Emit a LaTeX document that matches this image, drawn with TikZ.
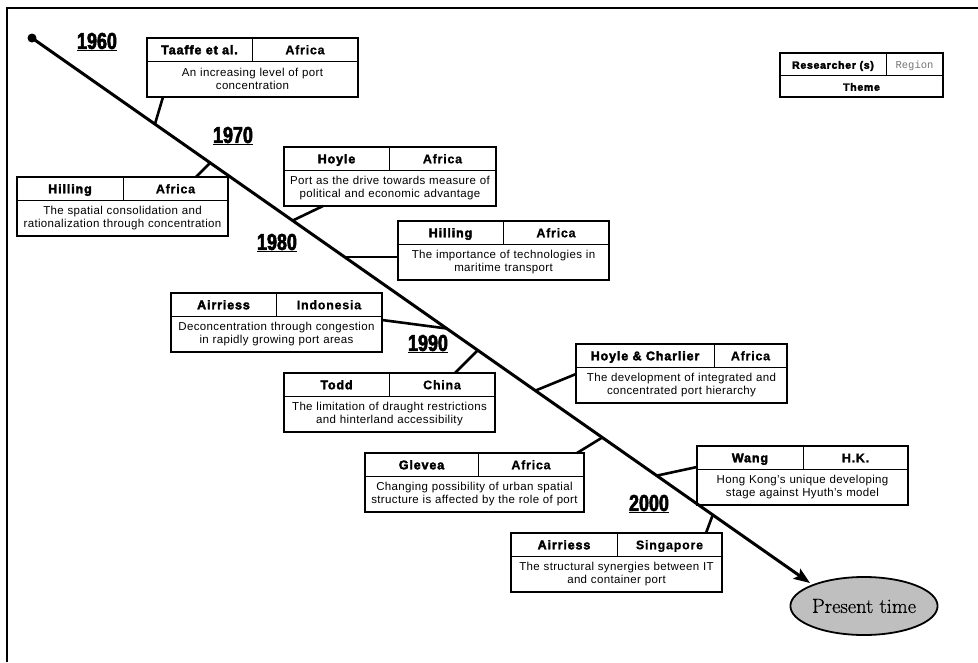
\documentclass[tikz,border=0pt]{standalone}
\usepackage{fontspec}
\usepackage{tikz}
\usetikzlibrary{calc,fit,arrows.meta,shapes.geometric}
\newfontfamily\bodyfont{Liberation Sans}[LetterSpace=3]
\newfontfamily\whofont{Liberation Sans}[LetterSpace=7,BoldFeatures={FakeBold=3}]
\newfontfamily\wherefont{Liberation Sans}[LetterSpace=6,BoldFeatures={FakeBold=0.6}]
\newfontfamily\yearfont{Liberation Sans}[FakeStretch=0.78,BoldFeatures={FakeBold=2.5}]
\newfontfamily\keyfont{Liberation Mono}
\newfontfamily\presentfont{Latin Modern Roman}[FakeBold=0.6]
\tikzset{
  cell/.style={draw, line width=0.8pt, inner sep=0pt, outer sep=0pt, minimum height=23pt,
    text height=10.5pt, text depth=1pt},
  themecell/.style={draw, line width=0.8pt, inner sep=0pt, outer sep=0pt, minimum height=36pt,
    align=center, font=\bodyfont\fontsize{11.5}{13.5}\selectfont},
  frame/.style={draw, line width=2.2pt, inner sep=0pt, outer sep=0pt},
  link/.style={line width=2.6pt},
  year/.style={inner sep=0pt, font=\yearfont\bfseries\fontsize{23}{23}\selectfont},
}
% box: name, north west corner, width, divider, researcher, region, theme
\newcommand{\eventbox}[7]{%
  \node[cell, minimum width=#4pt, anchor=north west, font=\whofont\bfseries\fontsize{12.5}{14}\selectfont] (#1-who) at (#2) {#5};
  \node[cell, minimum width=#3pt-#4pt, anchor=north west, font=\wherefont\bfseries\fontsize{12.5}{14}\selectfont] (#1-where) at (#1-who.north east) {#6};
  \node[themecell, text width=#3pt, anchor=north west] (#1-what) at (#1-who.south west) {#7};
  \node[frame, fit=(#1-who)(#1-where)(#1-what)] (#1) {};
}

\begin{document}
\begin{tikzpicture}[x=1pt, y=-1pt]
			%%%%% START %%%%%
			\useasboundingbox (0,0) rectangle (978,662);
			\draw[line width=2.2pt] (7,662) -- (7,8) -- (978,8);
			
			% time axis
			\coordinate (start) at (32,38);
			\coordinate (tip) at (810,583);
			\node[ellipse, draw, line width=1.8pt, fill=black!25, minimum width=139pt, minimum height=58pt,
			  inner sep=0pt, font=\presentfont\fontsize{20.5}{24}\selectfont] (present) at (864,606) {Present time};
			\fill (start) circle (4.5pt);
			\draw[line width=3pt, -{Stealth[length=16pt,width=12pt,inset=3pt]}] (start) -- (tip);
			
			\node[year] (y1960) at (97,42) {\underline{1960}};
			\node[year] (y1970) at (233,136) {\underline{1970}};
			\node[year] (y1980) at (277,243) {\underline{1980}};
			\node[year] (y1990) at (428,344) {\underline{1990}};
			\node[year] (y2000) at (649,504) {\underline{2000}};
			
			% legend
			\node[cell, minimum width=106pt, minimum height=22pt, anchor=north west,
			  font=\whofont\bfseries\fontsize{10.5}{12}\selectfont] (key-who) at (780,53) {Researcher (s)};
			\node[cell, minimum width=57pt, minimum height=22pt, anchor=north west, text=black!55,
			  font=\keyfont\fontsize{10.5}{12}\selectfont] (key-where) at (key-who.north east) {Region};
			\node[cell, minimum width=163pt, minimum height=22pt, anchor=north west,
			  font=\whofont\bfseries\fontsize{10.5}{12}\selectfont] (key-what) at (key-who.south west) {Theme};
			\node[frame, fit=(key-who)(key-where)(key-what)] (key) {};
			
			% studies
			\eventbox{taaffe}{147,38}{211}{105}{Taaffe et al.}{Africa}{An increasing level of port\\concentration}
			\eventbox{hilling1}{17,177}{211}{106}{Hilling}{Africa}{The spatial consolidation and\\rationalization through concentration}
			\eventbox{hoyle}{284,147}{212}{105}{Hoyle}{Africa}{Port as the drive towards measure of\\political and economic advantage}
			\eventbox{hilling2}{398,221}{211}{105}{Hilling}{Africa}{The importance of technologies in\\maritime transport}
			\eventbox{airriess1}{171,293}{211}{105}{Airriess}{Indonesia}{Deconcentration through congestion\\in rapidly growing port areas}
			\eventbox{todd}{284,373}{211}{105}{Todd}{China}{The limitation of draught restrictions\\and hinterland accessibility}
			\eventbox{hoylec}{576,344}{211}{138}{Hoyle \& Charlier}{Africa}{The development of integrated and\\concentrated port hierarchy}
			\eventbox{glevea}{365,453}{219}{113}{Glevea}{Africa}{Changing possibility of urban spatial\\structure is affected by the role of port}
			\eventbox{wang}{697,446}{211}{106}{Wang}{H.K.}{Hong Kong’s unique developing\\stage against Hyuth’s model}
			\eventbox{airriess2}{511,533}{211}{106}{Airriess}{Singapore}{The structural synergies between IT\\and container port}
			
			% links to the axis
			\coordinate (at-taaffe) at ($(start)!0.158!(tip)$);
			\coordinate (at-hilling1) at ($(start)!0.229!(tip)$);
			\coordinate (at-hoyle) at ($(start)!0.335!(tip)$);
			\coordinate (at-hilling2) at ($(start)!0.402!(tip)$);
			\coordinate (at-airriess1) at ($(start)!0.533!(tip)$);
			\coordinate (at-todd) at ($(start)!0.573!(tip)$);
			\coordinate (at-hoylec) at ($(start)!0.647!(tip)$);
			\coordinate (at-glevea) at ($(start)!0.733!(tip)$);
			\coordinate (at-wang) at ($(start)!0.803!(tip)$);
			\coordinate (at-airriess2) at ($(start)!0.875!(tip)$);
			
			\draw[link] ([xshift=16pt]taaffe.south west) -- (at-taaffe);
			\draw[link] ([xshift=-32pt]hilling1.north east) -- (at-hilling1);
			\draw[link] ([xshift=39pt]hoyle.south west) -- (at-hoyle);
			\draw[link] (at-hilling2) -- (at-hilling2 -| hilling2.west);
			\draw[link] ([yshift=-27pt]airriess1.north east) -- (at-airriess1);
			\draw[link] ([xshift=-40pt]todd.north east) -- (at-todd);
			\draw[link] ([yshift=-30pt]hoylec.north west) -- (at-hoylec);
			\draw[link] ([xshift=-7pt]glevea.north east) -- (at-glevea);
			\draw[link] ([yshift=-21pt]wang.north west) -- (at-wang);
			\draw[link] ([xshift=-16pt]airriess2.north east) -- (at-airriess2);
			
			%%%%% END %%%%%
\end{tikzpicture}
\end{document}
